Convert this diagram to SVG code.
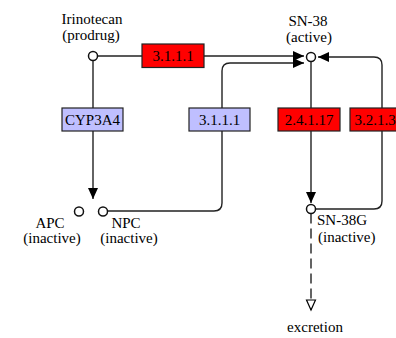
<svg xmlns="http://www.w3.org/2000/svg" width="396" height="338" viewBox="0 0 396 338">
<style>
text{font-family:"Liberation Serif","Times New Roman",serif;font-size:15px;fill:#000}
.c{text-anchor:middle}
.l{stroke:#222;stroke-width:1.4;fill:none}
.d{stroke-dasharray:10 5}
.cpd{fill:#fff;stroke:#111;stroke-width:1.5}
.red{fill:#ff0000;stroke:#222;stroke-width:1.2}
.blue{fill:#bfbfff;stroke:#222;stroke-width:1.2}
</style>
<defs>
<marker id="a" markerUnits="userSpaceOnUse" markerWidth="12" markerHeight="12" refX="11" refY="5" orient="auto" viewBox="0 0 12 12">
<path d="M0,0 L11,5 L0,10 z" fill="#000"/>
</marker>
<marker id="h" markerUnits="userSpaceOnUse" markerWidth="13" markerHeight="13" refX="11" refY="5.5" orient="auto" viewBox="0 0 13 13">
<path d="M1,1 L11,5.5 L1,10 z" fill="#fff" stroke="#000" stroke-width="1.2" stroke-dasharray="none"/>
</marker>
</defs>
<g id="connectors">
<path class="l" d="M98,56 H304" marker-end="url(#a)"/>
<path class="l" d="M93,60.5 V199" marker-end="url(#a)"/>
<path class="l" d="M107.5,211 H214 Q222,211 222,203 V71 Q222,63 230,63 H304" marker-end="url(#a)"/>
<path class="l" d="M311,61.5 V203" marker-end="url(#a)"/>
<path class="l" d="M315.5,209 H374 Q382,209 382,201 V65 Q382,57 374,57 H318" marker-end="url(#a)"/>
<path class="l d" d="M311,213.5 V310" marker-end="url(#h)"/>
</g>
<g id="irinotecan">
<circle class="cpd" cx="93" cy="56" r="4.5"/>
<text class="c" x="92" y="24">Irinotecan</text>
<text class="c" x="91" y="40">(prodrug)</text>
</g>
<g id="sn38">
<circle class="cpd" cx="311" cy="57" r="4.5"/>
<text class="c" x="308" y="26">SN-38</text>
<text class="c" x="309" y="42">(active)</text>
</g>
<g id="apc">
<circle class="cpd" cx="79" cy="211.5" r="4.5"/>
<text class="c" x="50" y="228">APC</text>
<text class="c" x="52" y="243">(inactive)</text>
</g>
<g id="npc">
<circle class="cpd" cx="103" cy="211.5" r="4.5"/>
<text class="c" x="126" y="228">NPC</text>
<text class="c" x="129" y="243">(inactive)</text>
</g>
<g id="sn38g">
<circle class="cpd" cx="311" cy="209" r="4.5"/>
<text x="317" y="225">SN-38G</text>
<text x="318" y="242">(inactive)</text>
</g>
<g id="excretion">
<text class="c" x="315" y="332">excretion</text>
</g>
<g id="e3111a">
<rect class="red" x="142" y="44" width="62" height="23.5"/>
<text class="c" x="173" y="61">3.1.1.1</text>
</g>
<g id="cyp3a4">
<rect class="blue" x="62" y="108" width="61" height="23"/>
<text class="c" x="92.5" y="125">CYP3A4</text>
</g>
<g id="e3111b">
<rect class="blue" x="189" y="108" width="61" height="23"/>
<text class="c" x="219.5" y="125">3.1.1.1</text>
</g>
<g id="e24117">
<rect class="red" x="278" y="108" width="62" height="23"/>
<text class="c" x="309" y="125">2.4.1.17</text>
</g>
<g id="e3213">
<rect class="red" x="350" y="108" width="62" height="23"/>
<text class="c" x="375" y="125">3.2.1.3</text>
</g>
</svg>
